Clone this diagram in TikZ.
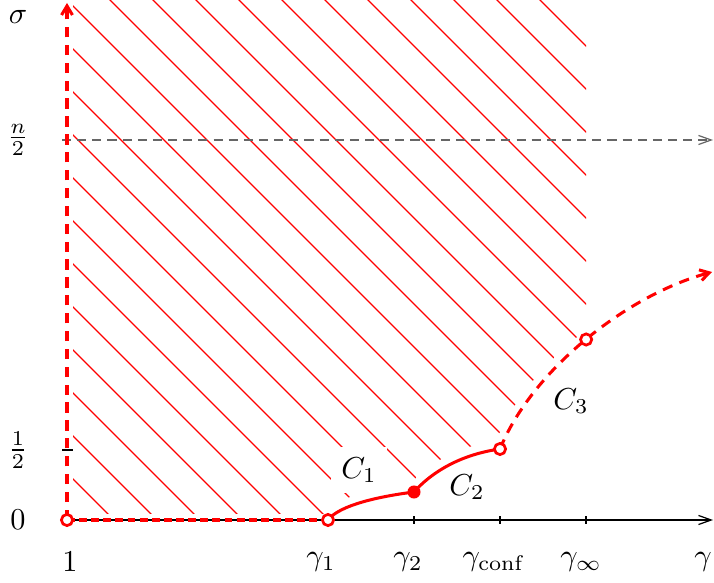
\documentclass[tikz,border=0pt]{standalone}
\usetikzlibrary{arrows.meta}
\begin{document}
\begin{tikzpicture}[x=0.33pt, y=0.33pt,
  curve/.style={red, line width=1pt},
  reddash/.style={curve, dash pattern=on 3.4pt off 2.5pt, -{Straight Barb[length=3pt, width=3.6pt]}},
  hatch/.style={red, line width=0.42pt},
  axis/.style={black, line width=0.4pt, -{Straight Barb[length=4.2pt, width=3pt]}},
  opendot/.style={circle, solid, draw=red, fill=white, line width=0.9pt, inner sep=0pt, minimum size=3.7pt},
  fulldot/.style={circle, fill=red, inner sep=0pt, minimum size=4.3pt},
  lab/.style={fill=white}]
\useasboundingbox (-67,-63) rectangle (647,520);
\coordinate (O) at (0,0);
\coordinate (g1) at (261,0);
\coordinate (g2) at (347,28);
\coordinate (gc) at (433,71);
\coordinate (c3end) at (645,248);
\coordinate (ytop) at (0,517);
\coordinate (xend) at (646,0);
\begin{scope}
  \clip (6,6) rectangle (519,520);
  \clip (-10,520) -- (-10,6) -- (257,6) .. controls (266,20) and (296,30) .. (343,36)
    .. controls (358,53) and (386,73) .. (429,79) .. controls (461,158) and (556,233) .. (660,260)
    -- (660,520) -- cycle;
  \foreach \k in {-11,...,11}
    \draw[hatch] ({520+43*\k-540},540) -- ({520+43*\k+20},-20);
\end{scope}
\node[lab] (c1) at (292,50) {$C_1$};
\draw[axis] (O) -- (xend);
\draw[axis, black!60, densely dashed] (-5,380) -- (646,380);
\draw[line width=0.4pt] (-5,70) -- (6,70);
\foreach \x in {347,433,519}
  \draw[line width=0.4pt] (\x,-4) -- (\x,4);
\draw[reddash] (O) -- (ytop);
\draw[curve, dash pattern=on 2.6pt off 1.4pt] (O) -- (g1);
\draw[curve] (g1) .. controls (270,12) and (300,22) .. (g2)
  .. controls (362,45) and (390,65) .. (gc);
\draw[reddash] (gc) .. controls (465,150) and (560,225) .. coordinate[pos=.5] (ginf) (c3end);
\node[opendot] (d0) at (O) {};
\node[opendot] (d1) at (g1) {};
\node[fulldot] (d2) at (g2) {};
\node[opendot] (dc) at (gc) {};
\node[opendot] (di) at (ginf) {};
\node (c2) at (400,33) {$C_2$};
\node (c3) at (504,119) {$C_3$};
\node (sig) at (-49,503) {$\sigma$};
\node (nhalf) at (-49,380) {$\frac{n}{2}$};
\node (half) at (-49,70) {$\frac{1}{2}$};
\node (zero) at (-49,0) {$0$};
\node (one) at (3,-42) {$1$};
\node (lg1) at (254,-42) {$\gamma_1$};
\node (lg2) at (341,-42) {$\gamma_2$};
\node (lgc) at (427,-42) {$\gamma_{\mathrm{conf}}$};
\node (lgi) at (514,-42) {$\gamma_\infty$};
\node (lg) at (636,-42) {$\gamma$};
\end{tikzpicture}
\end{document}
